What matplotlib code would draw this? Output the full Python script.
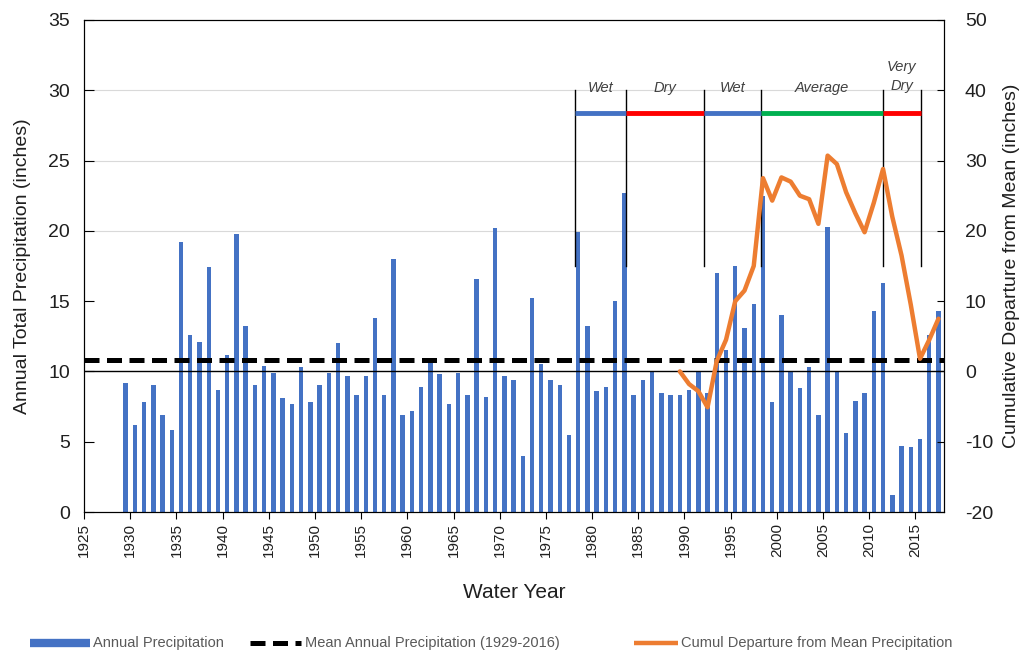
import matplotlib
matplotlib.use("Agg")
import matplotlib.pyplot as plt
from matplotlib.lines import Line2D

# Annual precipitation by water year (inches)
years = list(range(1929, 2018))
precip = [
    9.2, 6.2, 7.8, 9.0, 6.9, 5.8, 19.2, 12.6, 12.1, 17.4,   # 1929-1938
    8.7, 11.2, 19.8, 13.2, 9.0, 10.4, 9.9, 8.1, 7.7, 10.3,  # 1939-1948
    7.8, 9.0, 9.9, 12.0, 9.7, 8.3, 9.7, 13.8, 8.3, 18.0,    # 1949-1958
    6.9, 7.2, 8.9, 10.6, 9.8, 7.7, 9.9, 8.3, 16.6, 8.2,     # 1959-1968
    20.2, 9.7, 9.4, 4.0, 15.2, 10.5, 9.4, 9.0, 5.5, 19.9,   # 1969-1978
    13.2, 8.6, 8.9, 15.0, 22.7, 8.3, 9.4, 10.0, 8.5, 8.3,   # 1979-1988
    8.3, 8.7, 10.0, 8.5, 17.0, 11.5, 17.5, 13.1, 14.8, 22.5,  # 1989-1998
    7.8, 14.0, 10.0, 8.8, 10.3, 6.9, 20.3, 10.0, 5.6, 7.9,  # 1999-2008
    8.5, 14.3, 16.3, 1.2, 4.7, 4.6, 5.2, 12.6, 14.3,        # 2009-2017
]
mean_precip = 10.8

# Cumulative departure from mean precipitation (inches)
departure_years = list(range(1989, 2018))
departure = [
    0.0, -1.8, -2.8, -5.1, 1.5, 4.5, 10.0, 11.5, 15.0, 27.5,
    24.3, 27.6, 27.0, 25.0, 24.5, 21.0, 30.7, 29.5, 25.5, 22.5,
    19.8, 24.0, 28.8, 22.0, 16.5, 9.5, 1.8, 4.5, 7.5,
]

# Wet / dry periods
period_edges = [1978.2, 1983.7, 1992.1, 1998.3, 2011.5, 2015.6]
period_names = ["Wet", "Dry", "Wet", "Average", "Very\nDry"]
period_colors = ["#4472C4", "#FF0000", "#4472C4", "#00B050", "#FF0000"]

x_ticks = list(range(1925, 2020, 5))

BLUE = "#4472C4"
ORANGE = "#ED7D31"
TXT = "#1f1f1f"
DASH = (0, (3, 1.5))

plt.rcParams["font.family"] = ["Liberation Sans", "DejaVu Sans"]
plt.rcParams["axes.unicode_minus"] = False

fig = plt.figure(figsize=(10.26, 6.57), dpi=100)
ax = fig.add_axes([0.0819, 0.2207, 0.8382, 0.7489])

bar_x = [y + 0.5 for y in years]
ax.bar(bar_x, precip, width=0.48, color=BLUE, zorder=2)

for g in (20, 25, 30):
    ax.axhline(g, color="#d9d9d9", lw=0.8, zorder=0)

ax.axhline(10, color="black", lw=1.0, zorder=3)
ax.axhline(mean_precip, color="black", lw=3.6, ls=DASH, zorder=4)

ax.set_xlim(1925, 2018.1)
ax.set_ylim(0, 35)
ax.set_xticks(x_ticks)
ax.set_xticklabels([str(t) for t in x_ticks], rotation=90, fontsize=11, color=TXT)
ax.set_yticks(range(0, 40, 5))
ax.tick_params(axis="y", direction="in", length=7, labelsize=14,
               labelcolor=TXT, pad=10)
ax.tick_params(axis="x", direction="out", length=5, pad=3)
ax.set_xlabel("Water Year", fontsize=15, color=TXT)
ax.xaxis.set_label_coords(0.5, -0.163)
ax.xaxis.label.set_va("center")
ax.set_ylabel("Annual Total Precipitation (inches)", fontsize=14, color=TXT)
ax.yaxis.set_label_coords(-0.072, 0.5)
ax.yaxis.label.set_va("center")

# period markers
for e in period_edges:
    ax.plot([e, e], [17.5, 30.0], color="black", lw=1.0, zorder=5)
for i, name in enumerate(period_names):
    a, b = period_edges[i], period_edges[i + 1]
    ax.plot([a, b], [28.4, 28.4], color=period_colors[i], lw=3.5,
            solid_capstyle="butt", zorder=6)
    ax.text((a + b) / 2, 30.15 if "\n" not in name else 31.0, name,
            ha="center", va="center", fontsize=10.5, style="italic",
            color="#404040", linespacing=1.45, zorder=6)

ax2 = ax.twinx()
ax2.set_ylim(-20, 50)
ax2.set_yticks(range(-20, 60, 10))
ax2.tick_params(axis="y", direction="in", length=5, labelsize=14,
                labelcolor=TXT, pad=15)
dep_x = [y + 0.5 for y in departure_years]
ax2.plot(dep_x, departure, color=ORANGE, lw=3.2, solid_joinstyle="round",
         solid_capstyle="round", zorder=7)
ax2.set_ylabel("Cumulative Departure from Mean (inches)", fontsize=14, color=TXT)
ax2.yaxis.set_label_coords(1.079, 0.5)
ax2.yaxis.label.set_va("center")

# legend row along the bottom
W, H = 1026.0, 657.0
ly = 1 - 643 / H
legend_items = [
    (30, 90, dict(color=BLUE, lw=6, solid_capstyle="butt"), 93, "Annual Precipitation"),
    (250, 301, dict(color="black", lw=3.6, ls=DASH), 305, "Mean Annual Precipitation (1929-2016)"),
    (634, 678, dict(color=ORANGE, lw=3.2, solid_capstyle="butt"), 681, "Cumul Departure from Mean Precipitation"),
]
for x0, x1, style, tx, label in legend_items:
    fig.add_artist(Line2D([x0 / W, x1 / W], [ly, ly], transform=fig.transFigure, **style))
    fig.text(tx / W, ly, label, ha="left", va="center", fontsize=10.5, color="#595959")

fig.savefig("out.png", dpi=100)
